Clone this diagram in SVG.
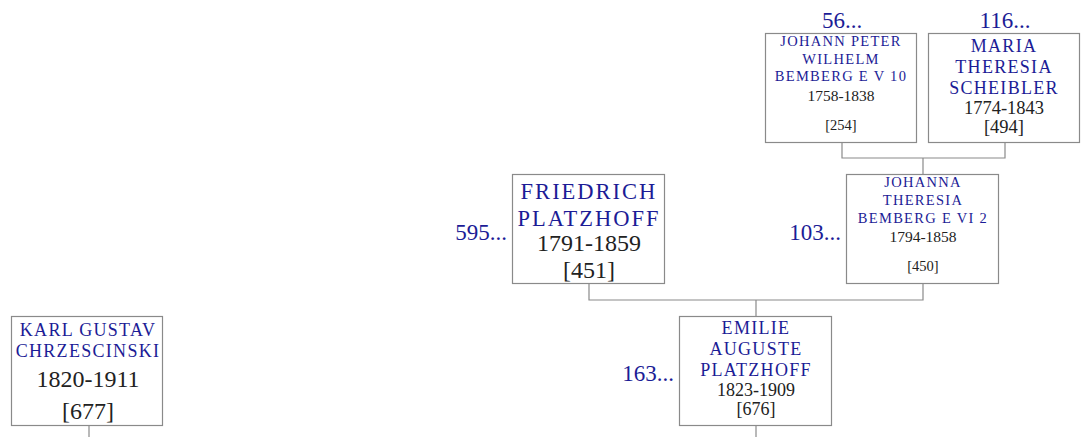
<svg xmlns="http://www.w3.org/2000/svg" width="1084" height="437" viewBox="0 0 1084 437">
<style>
.box{fill:#fff;stroke:#8a8a8a;stroke-width:1.2}
.ln{fill:none;stroke:#8a8a8a;stroke-width:1.2}
text{font-family:"Liberation Serif","DejaVu Serif",serif;text-anchor:middle}
.n{fill:#1c1c96;letter-spacing:1.3px}
.d{fill:#222}
.num{fill:#1c1c96;font-size:23px}
.r{text-anchor:end}
</style>
<rect width="1084" height="437" fill="#fff"/>
<g id="connectors">
<path class="ln" d="M842 143V158H1005V143M923 158V175"/>
<path class="ln" d="M589 284V300H923V284M756 300V316"/>
<path class="ln" d="M89 426V437"/>
<path class="ln" d="M756 426V437"/>
</g>
<g id="n56">
<text class="num" x="842" y="28">56...</text>
<rect class="box" x="765.5" y="33.5" width="151" height="109"/>
<text class="n" x="841" y="46" font-size="14.5">JOHANN PETER</text>
<text class="n" x="841" y="64" font-size="14.5">WILHELM</text>
<text class="n" x="841" y="81" font-size="14.5">BEMBERG E V 10</text>
<text class="d" x="841" y="101" font-size="15.5">1758-1838</text>
<text class="d" x="841" y="130" font-size="14.5">[254]</text>
</g>
<g id="n116">
<text class="num" x="1005" y="28">116...</text>
<rect class="box" x="928.5" y="33.5" width="151" height="109"/>
<text class="n" x="1004" y="52" font-size="18">MARIA</text>
<text class="n" x="1004" y="73" font-size="18">THERESIA</text>
<text class="n" x="1004" y="94" font-size="18">SCHEIBLER</text>
<text class="d" x="1004" y="114" font-size="18.5">1774-1843</text>
<text class="d" x="1004" y="133" font-size="18.5">[494]</text>
</g>
<g id="n595">
<text class="num r" x="507" y="240">595...</text>
<rect class="box" x="512.5" y="174.5" width="152" height="109"/>
<text class="n" x="589" y="199" font-size="22.5" style="letter-spacing:2px">FRIEDRICH</text>
<text class="n" x="589" y="226" font-size="22.5" style="letter-spacing:2px">PLATZHOFF</text>
<text class="d" x="589" y="251" font-size="24">1791-1859</text>
<text class="d" x="589" y="278" font-size="24">[451]</text>
</g>
<g id="n103">
<text class="num r" x="841" y="240">103...</text>
<rect class="box" x="846.5" y="174.5" width="152" height="109"/>
<text class="n" x="923" y="187" font-size="14.5">JOHANNA</text>
<text class="n" x="923" y="205" font-size="14.5">THERESIA</text>
<text class="n" x="923" y="223" font-size="14.5">BEMBERG E VI 2</text>
<text class="d" x="923" y="242" font-size="15.5">1794-1858</text>
<text class="d" x="923" y="271" font-size="14.5">[450]</text>
</g>
<g id="n677">
<rect class="box" x="11.5" y="316.5" width="151" height="109"/>
<text class="n" x="88" y="336" font-size="18">KARL GUSTAV</text>
<text class="n" x="88" y="357" font-size="18">CHRZESCINSKI</text>
<text class="d" x="88" y="387" font-size="24">1820-1911</text>
<text class="d" x="88" y="419" font-size="24">[677]</text>
</g>
<g id="n163">
<text class="num r" x="674" y="381">163...</text>
<rect class="box" x="679.5" y="316.5" width="152" height="109"/>
<text class="n" x="756" y="334" font-size="18">EMILIE</text>
<text class="n" x="756" y="355" font-size="18">AUGUSTE</text>
<text class="n" x="756" y="376" font-size="18">PLATZHOFF</text>
<text class="d" x="756" y="396" font-size="18">1823-1909</text>
<text class="d" x="756" y="415" font-size="18">[676]</text>
</g>
</svg>
